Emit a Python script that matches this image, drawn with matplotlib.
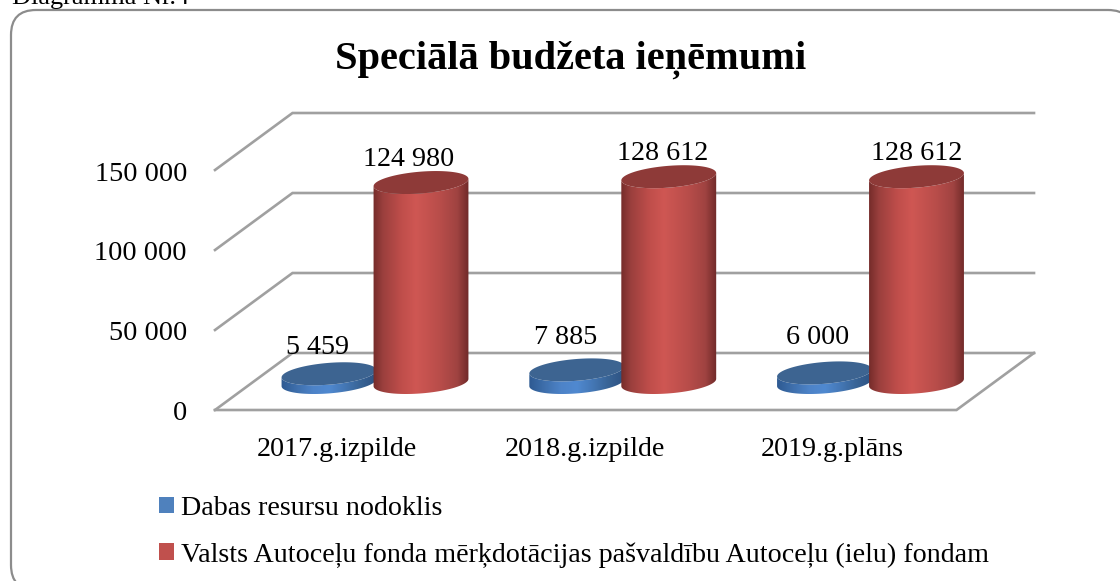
import numpy as np
import matplotlib
matplotlib.use('Agg')
import matplotlib.pyplot as plt
from matplotlib.colors import LinearSegmentedColormap
from matplotlib.patches import FancyBboxPatch, Patch, Polygon
from matplotlib.transforms import IdentityTransform

plt.rcParams['font.family'] = ['Liberation Serif', 'DejaVu Serif']

# dati
categories = ['2017.g.izpilde', '2018.g.izpilde', '2019.g.plāns']
dabas = [5459, 7885, 6000]
valsts = [124980, 128612, 128612]
dabas_labels = ['5 459', '7 885', '6 000']
valsts_labels = ['124 980', '128 612', '128 612']
y_ticks = [0, 50000, 100000, 150000]
y_tick_labels = ['0', '50 000', '100 000', '150 000']
series_names = ['Dabas resursu nodoklis',
                'Valsts Autoceļu fonda mērķdotācijas pašvaldību Autoceļu (ielu) fondam']
title = 'Speciālā budžeta ieņēmumi'

W, H = 1120, 581
# one category = 247.75 px, 50 000 = 80 px
XU = 247.75
YU = 625.0
X0 = 375.0
Y0 = 410.0


def dx(px):
    return px / XU


def dy(px):
    return px * YU


fig = plt.figure(figsize=(W / 100, H / 100), dpi=100)
ax = fig.add_axes([0, 0, 1, 1])
ax.set_xlim(-X0 / XU, (W - X0) / XU)
ax.set_ylim(-(H - Y0) * YU, Y0 * YU)
ax.axis('off')

# ramis (pikseļos, iziet ārpus attēla)
to_px = IdentityTransform()
frame = FancyBboxPatch((11 + 25, H - 590 + 25), 1122 - 50, 580 - 50,
                       boxstyle='round,pad=25', fc='white', ec='#8c8c8c', lw=1.6,
                       transform=to_px, zorder=-1, clip_on=False)
fig.add_artist(frame)
fig.text(12 / W, 1 - 4 / H, 'Diagramma Nr.4', fontsize=19, color='black', va='baseline', ha='left')

# 3D "istaba"
left = dx(215 - X0)
right = dx(956.5 - X0)
back_x = dx(77.5)
back_y = dy(57)
grid_c = '#a0a0a0'
for v in y_ticks:
    ax.plot([left, left + back_x, right + back_x], [v, v + back_y, v + back_y],
            color=grid_c, lw=1.9, solid_joinstyle='miter', zorder=2)
ax.plot([left, right, right + back_x], [0, 0, back_y], color=grid_c, lw=1.9,
        solid_joinstyle='miter', zorder=2)

for v, lab in zip(y_ticks, y_tick_labels):
    ax.text(dx(187 - X0), v - dy(4), lab, ha='right', va='center', fontsize=20.3, zorder=6)
for i, lab in enumerate(categories):
    ax.text(i + dx(-38), dy(-39), lab, ha='center', va='center', fontsize=20.2, zorder=6)

red_cm = LinearSegmentedColormap.from_list('r', [(0, '#762c2a'), (0.1, '#9a3f3d'), (0.3, '#c04e4b'),
                                                 (0.45, '#cf5753'), (0.7, '#b84d4a'), (0.88, '#a04341'),
                                                 (1, '#702a29')])
blue_cm = LinearSegmentedColormap.from_list('b', ['#2e5a92', '#3f70ad', '#4d83c8', '#5089d0',
                                                  '#4477b5', '#386395', '#2d5282'])


def ellipse(cx, cy, t):
    x = cx + dx(45) * np.cos(t) + dx(15) * np.sin(t)
    y = cy + dy(11.5) * np.sin(t)
    return x, y


def cylinder(cx, value, cmap, top_color, z):
    base = dy(27.5)
    t0 = np.arctan2(15, 45)
    # lower half of the ring: right extreme -> left extreme
    t = np.linspace(t0, t0 - np.pi, 60)
    bx, by = ellipse(cx, base, t)
    tx, ty = ellipse(cx, base + value, t[::-1])
    verts = np.column_stack([np.r_[bx, tx], np.r_[by, ty]])
    side = Polygon(verts, closed=True, fc='none', ec='none', zorder=z)
    ax.add_patch(side)
    half = dx(47.6)
    grad = np.linspace(0, 1, 200).reshape(1, -1)
    im = ax.imshow(grad, cmap=cmap, aspect='auto', zorder=z,
                   extent=[cx - half, cx + half, base - dy(14), base + value + dy(14)])
    im.set_clip_path(side)
    t = np.linspace(0, 2 * np.pi, 120)
    ex, ey = ellipse(cx, base + value, t)
    ax.fill(ex, ey, color=top_color, lw=0, zorder=z + 0.1)


for i in range(len(categories)):
    cylinder(i - dx(46), dabas[i], blue_cm, '#3d6491', 3)
    cylinder(i + dx(46), valsts[i], red_cm, '#8e3a38', 4)

# reset limits, imshow changes them
ax.set_xlim(-X0 / XU, (W - X0) / XU)
ax.set_ylim(-(H - Y0) * YU, Y0 * YU)

label_shift_blue = [-11.5, -11.5, -7]
label_shift_red = [-12.5, -6.5, 0.5]
label_y_blue = [348, 338, 338]
label_y_red = [159, 153, 153]
for i in range(len(categories)):
    ax.text(i - dx(46) + dx(label_shift_blue[i]), dy(Y0 - label_y_blue[i]), dabas_labels[i],
            ha='center', va='center', fontsize=20.2, zorder=6)
    ax.text(i + dx(46) + dx(label_shift_red[i]), dy(Y0 - label_y_red[i]), valsts_labels[i],
            ha='center', va='center', fontsize=20.2, zorder=6)

title_y = dy(Y0 - 60)
ax.text(dx(571 - X0), title_y, title, ha='center', va='center', fontsize=29.1, fontweight='bold', zorder=6)

handles = [Patch(fc='#4f81bd', ec='none'), Patch(fc='#c0504d', ec='none')]
ax.legend(handles, series_names, loc='upper left', bbox_to_anchor=(159 / W, 1 - 496 / H),
          frameon=False, fontsize=20.2, borderpad=0, borderaxespad=0,
          handlelength=0.535, handleheight=0.535, handletextpad=0.25, labelspacing=0.75)

plt.savefig('out.png', dpi=100)
